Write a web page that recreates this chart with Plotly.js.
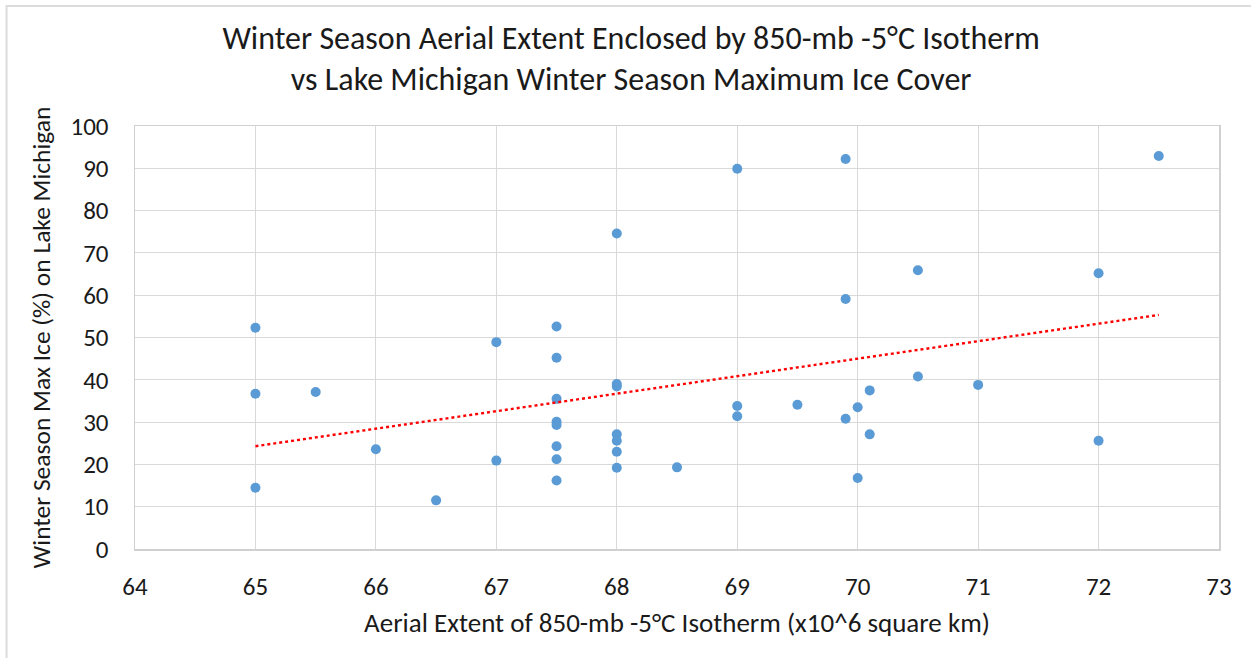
<!DOCTYPE html>
<html>
<head>
<meta charset="utf-8">
<script src="https://cdn.plot.ly/plotly-3.0.1.min.js"></script>
<style>
html,body{margin:0;padding:0;background:#fff;}
#chart{width:1251px;height:658px;}
</style>
</head>
<body>
<div id="chart"></div>
<script>
// Aerial extent (x10^6 sq km)
const extent = [
  65, 65, 65,
  65.5, 66, 66.5,
  67, 67,
  67.5, 67.5, 67.5, 67.5, 67.5, 67.5, 67.5, 67.5,
  68, 68, 68, 68, 68, 68, 68,
  68.5,
  69, 69, 69,
  69.5,
  69.9, 69.9, 69.9,
  70, 70,
  70.1, 70.1,
  70.5, 70.5,
  71,
  72, 72,
  72.5
];
// Max ice cover (%)
const maxIce = [
  52.3, 36.7, 14.5,
  37.1, 23.6, 11.5,
  48.9, 20.9,
  52.6, 45.2, 35.5, 30.1, 29.3, 24.3, 21.2, 16.2,
  74.6, 39.0, 38.4, 27.1, 25.6, 23.0, 19.2,
  19.3,
  89.9, 33.8, 31.4,
  34.1,
  92.2, 59.1, 30.8,
  33.5, 16.8,
  37.5, 27.1,
  65.9, 40.8,
  38.8,
  65.2, 25.6,
  92.9
];
const xTicks = [64, 65, 66, 67, 68, 69, 70, 71, 72, 73];
const yTicks = [0, 10, 20, 30, 40, 50, 60, 70, 80, 90, 100];

// linear least-squares trendline
const n = extent.length;
const mx = extent.reduce((a, b) => a + b, 0) / n;
const my = maxIce.reduce((a, b) => a + b, 0) / n;
let sxy = 0, sxx = 0;
for (let i = 0; i < n; i++) { sxy += (extent[i] - mx) * (maxIce[i] - my); sxx += (extent[i] - mx) ** 2; }
const slope = sxy / sxx, icpt = my - slope * mx;
const xMin = Math.min(...extent), xMax = Math.max(...extent);
const trendX = [xMin, xMax];
const trendY = trendX.map(v => icpt + slope * v);

const FONT = "Carlito, Calibri, 'Liberation Sans Narrow', 'Open Sans', sans-serif";
const TXT = '#1a1a1a';

const data = [
  {
    x: extent, y: maxIce, type: 'scatter', mode: 'markers',
    marker: {color: '#5b9bd5', size: 10},
    hoverinfo: 'x+y', showlegend: false
  },
  {
    x: trendX, y: trendY, type: 'scatter', mode: 'lines',
    line: {color: '#ff0000', width: 2.4, dash: 'dot'},
    hoverinfo: 'skip', showlegend: false
  }
];

const layout = {
  width: 1251, height: 658,
  paper_bgcolor: '#ffffff', plot_bgcolor: '#ffffff',
  margin: {l: 135, r: 32, t: 126, b: 109},
  font: {family: FONT, color: TXT, size: 25},
  title: {
    text: 'Winter Season Aerial Extent Enclosed by 850-mb -5°C Isotherm<br>vs Lake Michigan Winter Season Maximum Ice Cover',
    font: {family: FONT, size: 32, color: TXT},
    x: 0.5045, xref: 'container', xanchor: 'center', y: 0.926, yref: 'container', yanchor: 'top'
  },
  xaxis: {
    range: [64, 73], tickvals: xTicks, ticktext: xTicks.map(String),
    showgrid: true, gridcolor: '#d9d9d9', gridwidth: 1,
    zeroline: false, showline: true, linecolor: '#d0d0d0', linewidth: 1.5, mirror: true,
    ticks: '', ticklabelstandoff: 14, tickfont: {family: FONT, size: 25, color: TXT},
    title: {text: 'Aerial Extent of 850-mb -5°C Isotherm (x10^6 square km)', font: {family: FONT, size: 27, color: TXT}, standoff: 12}
  },
  yaxis: {
    range: [0, 100], tickvals: yTicks, ticktext: yTicks.map(String),
    showgrid: true, gridcolor: '#d9d9d9', gridwidth: 1,
    zeroline: false, showline: true, linecolor: '#d0d0d0', linewidth: 1.5, mirror: true,
    ticks: '', ticklabelstandoff: 20, tickfont: {family: FONT, size: 25, color: TXT},
    title: {text: 'Winter Season Max Ice (%) on Lake Michigan', font: {family: FONT, size: 25.5, color: TXT}, standoff: 12}
  },
  shapes: [{
    type: 'rect', xref: 'paper', yref: 'paper',
    x0: -0.1185, x1: 1.2, y0: -0.6, y1: 1.2837,
    line: {width: 2, color: '#dcdcdc'}, layer: 'below'
  }]
};

Plotly.newPlot('chart', data, layout, {displayModeBar: false, staticPlot: true});
</script>
</body>
</html>
